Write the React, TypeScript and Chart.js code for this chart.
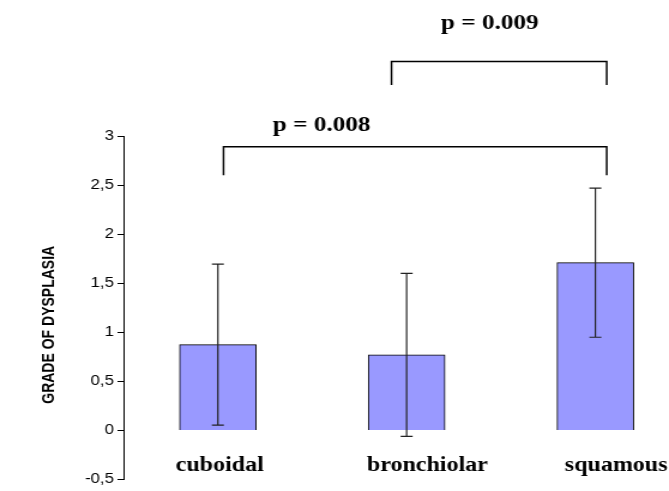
import React, { useEffect, useRef } from "react";
import { Chart, registerables } from "chart.js";

Chart.register(...registerables);

// ---- data ----
const categories = ["cuboidal", "bronchiolar", "squamous"];
const categoryPositions = [0, 1, 2];
const meanGrade = [0.875, 0.77, 1.71];
const sdGrade = [0.82, 0.83, 0.76];
const yTicks = [-0.5, 0, 0.5, 1, 1.5, 2, 2.5, 3];
const yTitle = "GRADE OF DYSPLASIA";

// significance brackets (data coordinates)
const pLabels = ["p = 0.008", "p = 0.009"];
const bracketFrom = [0.03, 0.92];
const bracketTo = [2.06, 2.06];
const bracketTop = [2.89, 3.76];
const bracketLeg = [2.6, 3.52];
const pLabelX = [0.55, 1.44];
const pLabelY = [3.05, 4.09];

const STRETCH = 1.2; // horizontal stretch of the original picture
const W = 669;
const H = 491;
const LW = Math.round(W / STRETCH);

const overlayPlugin = {
  id: "overlay",
  afterDatasetsDraw(chart: any) {
    const { ctx } = chart;
    const xs = chart.scales.x;
    const ys = chart.scales.y;
    ctx.save();
    // error bars
    ctx.strokeStyle = "#222";
    ctx.lineWidth = 1.2;
    categoryPositions.forEach((c, i) => {
      const x = xs.getPixelForValue(c);
      const yt = ys.getPixelForValue(meanGrade[i] + sdGrade[i]);
      const yb = ys.getPixelForValue(meanGrade[i] - sdGrade[i]);
      ctx.beginPath();
      ctx.moveTo(x, yt);
      ctx.lineTo(x, yb);
      ctx.moveTo(x - 5, yt);
      ctx.lineTo(x + 5, yt);
      ctx.moveTo(x - 5, yb);
      ctx.lineTo(x + 5, yb);
      ctx.stroke();
    });
    // category labels
    const offs = [0.01, 0.11, 0.11];
    ctx.fillStyle = "#000";
    ctx.font = "bold 20px 'Liberation Serif', 'Times New Roman', serif";
    ctx.textAlign = "center";
    ctx.textBaseline = "alphabetic";
    categories.forEach((c, i) => {
      ctx.fillText(c, xs.getPixelForValue(categoryPositions[i] + offs[i]), ys.getPixelForValue(-0.41));
    });
    // brackets
    ctx.strokeStyle = "#000";
    ctx.lineWidth = 1.5;
    pLabels.forEach((p, i) => {
      const x1 = xs.getPixelForValue(bracketFrom[i]);
      const x2 = xs.getPixelForValue(bracketTo[i]);
      const yt = ys.getPixelForValue(bracketTop[i]);
      const yl = ys.getPixelForValue(bracketLeg[i]);
      ctx.beginPath();
      ctx.moveTo(x1, yl);
      ctx.lineTo(x1, yt);
      ctx.lineTo(x2, yt);
      ctx.lineTo(x2, yl);
      ctx.stroke();
      ctx.font = "bold 21px 'Liberation Serif', 'Times New Roman', serif";
      ctx.fillText(p, xs.getPixelForValue(pLabelX[i]), ys.getPixelForValue(pLabelY[i]));
    });
    // y title
    ctx.translate(41.5, (ys.getPixelForValue(3) + ys.getPixelForValue(-0.5)) / 2 + 17);
    ctx.rotate(-Math.PI / 2);
    ctx.font = "bold 14px 'Liberation Sans', Arial, sans-serif";
    ctx.textBaseline = "middle";
    ctx.fillText(yTitle, 0, 0);
    ctx.restore();
  },
};

export default function App() {
  const ref = useRef<HTMLCanvasElement>(null);
  useEffect(() => {
    document.body.style.margin = "0";
    const canvas = ref.current!;
    const chart = new Chart(canvas, {
      type: "bar",
      data: {
        datasets: [
          {
            data: categoryPositions.map((x, i) => ({ x, y: meanGrade[i] })),
            backgroundColor: "#9999FF",
            borderColor: "#000",
            borderWidth: 1,
            barThickness: 64,
          },
        ],
      },
      options: {
        animation: false,
        responsive: false,
        devicePixelRatio: 1,
        layout: { padding: { top: 136, bottom: 11, left: 0, right: 0 } },
        plugins: { legend: { display: false }, tooltip: { enabled: false } },
        scales: {
          x: { type: "linear", min: -0.5, max: 2.39, display: false, offset: false, grid: { offset: false } },
          y: {
            type: "linear",
            min: -0.5,
            max: 3,
            afterBuildTicks: (s: any) => {
              s.ticks = yTicks.map((v) => ({ value: v }));
            },
            afterFit: (s: any) => {
              s.width = 103;
            },
            border: { display: true, color: "#000", width: 1 },
            grid: { drawOnChartArea: false, drawTicks: true, tickLength: 5, color: "#000" },
            ticks: {
              color: "#000",
              padding: 3,
              font: { family: "'Liberation Sans', Arial, sans-serif", size: 14 },
              callback: (v: any) => String(v).replace(".", ","),
            },
          },
        },
      },
      plugins: [overlayPlugin],
    });
    return () => chart.destroy();
  }, []);
  return (
    <canvas
      ref={ref}
      width={LW}
      height={H}
      style={{ width: W + "px", height: H + "px", display: "block" }}
    />
  );
}
